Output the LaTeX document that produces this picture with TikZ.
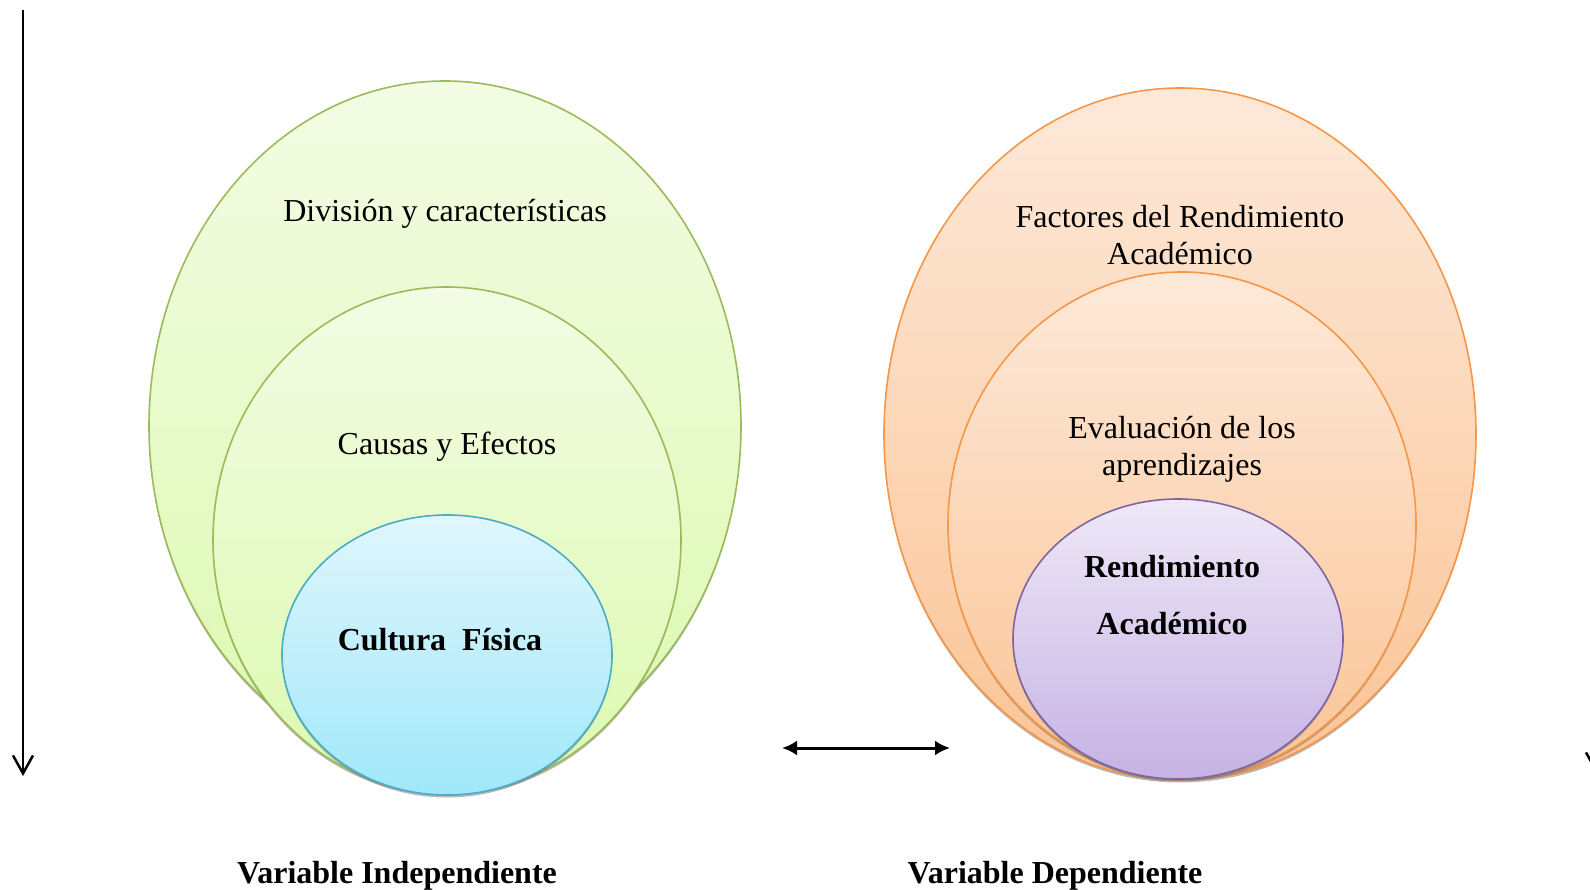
\documentclass[tikz,border=0pt]{standalone}
\usepackage{fontspec}
\setmainfont{Liberation Serif}
\usetikzlibrary{arrows.meta,shapes.geometric,shadows,positioning}
\definecolor{vgreen}{RGB}{155,187,89}
\definecolor{greentop}{RGB}{243,252,228}
\definecolor{greenbot}{RGB}{220,249,176}
\definecolor{vblue}{RGB}{75,172,198}
\definecolor{bluetop}{RGB}{224,246,252}
\definecolor{bluebot}{RGB}{160,232,250}
\definecolor{vorange}{RGB}{247,150,70}
\definecolor{orangetop}{RGB}{253,233,217}
\definecolor{orangebot}{RGB}{251,196,150}
\definecolor{vpurple}{RGB}{128,100,162}
\definecolor{purpletop}{RGB}{238,232,247}
\definecolor{purplebot}{RGB}{198,178,228}

\begin{document}
\begin{tikzpicture}[x=1pt,y=-1pt,
  ring/.style={ellipse, inner sep=0pt, line width=1.6pt,
               drop shadow={shadow xshift=0pt, shadow yshift=-2.5pt, fill=black!55, opacity=0.5}},
  greenring/.style={ring, draw=vgreen, top color=greentop, bottom color=greenbot},
  bluering/.style={ring, draw=vblue, top color=bluetop, bottom color=bluebot},
  orangering/.style={ring, draw=vorange, top color=orangetop, bottom color=orangebot},
  purplering/.style={ring, draw=vpurple, top color=purpletop, bottom color=purplebot},
  lbl/.style={font=\fontsize{32}{37}\selectfont, align=center, inner sep=0pt},
  blbl/.style={lbl, font=\fontsize{32}{57}\selectfont\bfseries},
  varrow/.style={-{Straight Barb[length=18pt,width=20pt]}, line width=2.5pt},
  darrow/.style={{Latex[length=15pt,width=15pt]}-{Latex[length=15pt,width=15pt]}, line width=3pt}
]
  \clip (0,0) rectangle (1590,890);

  % independent variable
  \node[greenring, minimum width=592pt, minimum height=690pt] (divi)   at (445,426) {};
  \node[greenring, minimum width=468pt, minimum height=506pt] (causas) at (447,540) {};
  \node[bluering,  minimum width=330pt, minimum height=280pt] (cultura) at (447,655) {};
  \node[lbl]  (divitxt)    at (445,214) {División y características};
  \node[lbl]  (causastxt)  at (447,447) {Causas y Efectos};
  \node[blbl] (culturatxt) at (440,640) {Cultura\ \ Física};

  % dependent variable
  \node[orangering, minimum width=592pt, minimum height=692pt] (factores) at (1180,434) {};
  \node[orangering, minimum width=468pt, minimum height=506pt] (evalua)   at (1182,525) {};
  \node[purplering, minimum width=330pt, minimum height=280pt] (rendi)    at (1178,639) {};
  \node[lbl]  (factorestxt) at (1180,235) {Factores del Rendimiento\\Académico};
  \node[lbl]  (evaluatxt)   at (1182,449) {Evaluación de los\\aprendizajes};
  \node[blbl] (renditxt)    at (1172,595) {Rendimiento\\Académico};

  \node[blbl] (indep) at (397,876) {Variable Independiente};
  \node[blbl] (dep)   at (1055,876) {Variable Dependiente};

  % arrows
  \coordinate (ltop) at (23,10);
  \coordinate (lbot) at (23,776);
  \draw[varrow] (ltop) -- (lbot);
  \coordinate (rtop) at (1596,10);
  \coordinate (rbot) at (1596,773);
  \draw[varrow] (rtop) -- (rbot);
  \coordinate (dleft)  at (782,748);
  \coordinate (dright) at (950,748);
  \draw[darrow] (dleft) -- (dright);
\end{tikzpicture}
\end{document}
